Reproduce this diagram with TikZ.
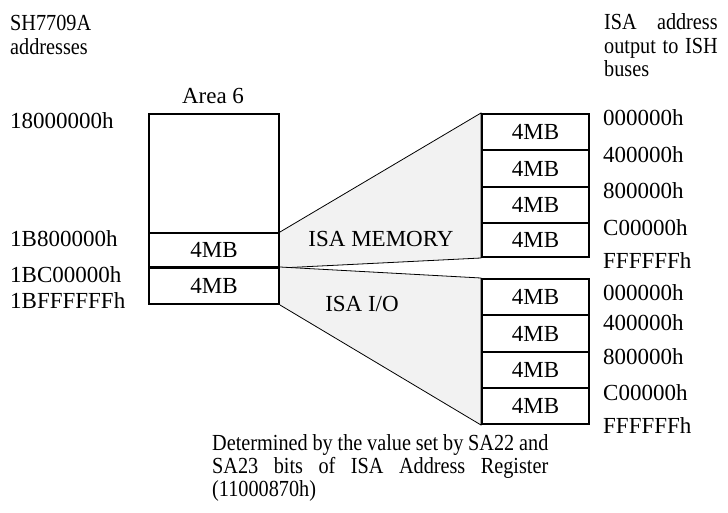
\documentclass[tikz,border=0pt]{standalone}
\usepackage{fontspec}
\setmainfont{Liberation Serif}
\usetikzlibrary{backgrounds}
\definecolor{fan}{HTML}{F2F2F2}
\newcommand{\cond}[1]{\scalebox{0.88}[1]{#1}}
\begin{document}
\begin{tikzpicture}[x=1pt,y=-1pt,
  txt/.style={anchor=base west, inner sep=0pt, font=\fontsize{23}{25}\selectfont},
  ctxt/.style={anchor=base, inner sep=0pt, font=\fontsize{23}{25}\selectfont},
  membox/.style={draw, line width=2pt, fill=white, inner sep=0pt, anchor=north west,
    font=\fontsize{23}{25}\selectfont},
  fanline/.style={line width=0.8pt, fill=fan}]
\useasboundingbox (0,0) rectangle (728,513);

% left column labels
\node[txt] (t1) at (10,31) {\cond{SH7709A}};
\node[txt] (t2) at (10,55) {\cond{addresses}};
\node[txt] (a0) at (10,129) {18000000h};
\node[txt] (a1) at (10,246) {1B800000h};
\node[txt] (a2) at (10,282) {1BC00000h};
\node[txt] (a3) at (10,308) {1BFFFFFFh};

% right top heading
\node[txt] (h1) at (604,30) {\cond{\makebox[129pt][s]{ISA address}}};
\node[txt] (h2) at (604,54) {\cond{\makebox[129pt][s]{output to ISH}}};
\node[txt] (h3) at (604,77) {\cond{buses}};

% Area 6
\node[ctxt] (arealbl) at (213,104) {Area 6};
\node[membox, minimum width=130pt, minimum height=119pt] (area) at (148,113) {};
\node[membox, minimum width=130pt, minimum height=34pt] (m1) at (148,232) {4MB};
\node[membox, minimum width=130pt, minimum height=36pt] (m2) at (148,267) {4MB};

% right boxes (memory)
\node[membox, minimum width=107pt, minimum height=36pt] (r1) at (481,113) {4MB};
\node[membox, minimum width=107pt, minimum height=37pt] (r2) at (481,149) {4MB};
\node[membox, minimum width=107pt, minimum height=36pt] (r3) at (481,186) {4MB};
\node[membox, minimum width=107pt, minimum height=34pt] (r4) at (481,222) {4MB};

% right boxes (I/O)
\node[membox, minimum width=107pt, minimum height=36pt] (s1) at (481,278) {4MB};
\node[membox, minimum width=107pt, minimum height=37pt] (s2) at (481,314) {4MB};
\node[membox, minimum width=107pt, minimum height=36pt] (s3) at (481,351) {4MB};
\node[membox, minimum width=107pt, minimum height=36pt] (s4) at (481,387) {4MB};

% fans
\begin{scope}[on background layer]
\draw[fanline] (m1.north east) -- (r1.north west) -- (r4.south west) -- (m1.south east);
\draw[fanline] (m2.north east) -- (s1.north west) -- (s4.south west) -- (m2.south east);
\end{scope}

\node[ctxt] (isamem) at (381,247) {ISA MEMORY};
\node[ctxt] (isaio) at (362,311) {ISA I/O};

% right address labels
\node[txt] (b0) at (603,126) {000000h};
\node[txt] (b1) at (603,163) {400000h};
\node[txt] (b2) at (603,199) {800000h};
\node[txt] (b3) at (603,236) {C00000h};
\node[txt] (b4) at (603,268) {FFFFFFh};
\node[txt] (c0) at (603,300) {000000h};
\node[txt] (c1) at (603,330) {400000h};
\node[txt] (c2) at (603,364) {800000h};
\node[txt] (c3) at (603,400) {C00000h};
\node[txt] (c4) at (603,433) {FFFFFFh};

% bottom note
\node[txt] (n1) at (212,450) {\cond{\makebox[382pt][s]{Determined by the value set by SA22 and}}};
\node[txt] (n2) at (212,473) {\cond{\makebox[382pt][s]{SA23 bits of ISA Address Register}}};
\node[txt] (n3) at (212,496) {\cond{(11000870h)}};
\end{tikzpicture}
\end{document}
